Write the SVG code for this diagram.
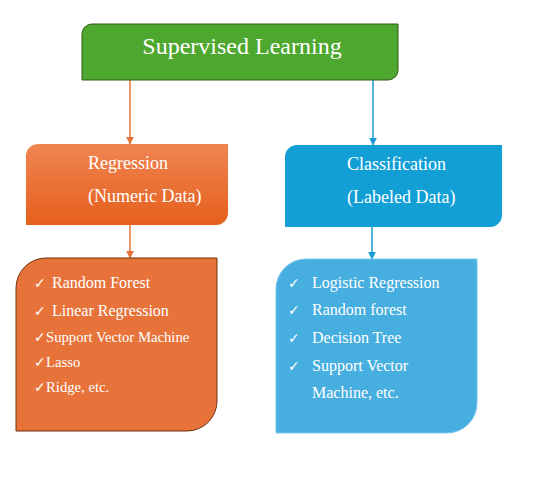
<svg xmlns="http://www.w3.org/2000/svg" width="537" height="483" viewBox="0 0 537 483">
<defs>
<linearGradient id="og" x1="0" y1="0" x2="0" y2="1">
<stop offset="0" stop-color="#f08552"/>
<stop offset="1" stop-color="#e55f1c"/>
</linearGradient>
<marker id="ao" viewBox="0 0 10 10" refX="9" refY="5" markerWidth="8" markerHeight="8" markerUnits="userSpaceOnUse" orient="auto"><path d="M0,0 L10,5 L0,10 Z" fill="#e8733a"/></marker>
<marker id="ab" viewBox="0 0 10 10" refX="9" refY="5" markerWidth="8" markerHeight="8" markerUnits="userSpaceOnUse" orient="auto"><path d="M0,0 L10,5 L0,10 Z" fill="#1a9bd4"/></marker>
<style>
text{font-family:"Liberation Serif","Times New Roman",serif;fill:#ffffff}
.t{font-size:24px}
.h{font-size:18px}
.i{font-size:16px}
.s{font-size:14.7px}
.c{font-family:"DejaVu Sans",sans-serif;font-size:14px}
.lo{stroke:#e8733a;stroke-width:1.5;fill:none}
.lb{stroke:#1a9bd4;stroke-width:1.5;fill:none}
</style>
</defs>
<g id="connectors">
<line class="lo" x1="130" y1="80" x2="130" y2="144" marker-end="url(#ao)"/>
<line class="lb" x1="373" y1="80" x2="373" y2="145" marker-end="url(#ab)"/>
<line class="lo" x1="130" y1="225" x2="130" y2="258" marker-end="url(#ao)"/>
<line class="lb" x1="372" y1="227" x2="372" y2="259" marker-end="url(#ab)"/>
</g>
<g id="supervised">
<path d="M82,34 A10,10 0 0 1 92,24 H398 V70 A10,10 0 0 1 388,80 H82 Z" fill="#4ea72e" stroke="#2b5a17" stroke-width="1"/>
<text class="t" x="242" y="54" text-anchor="middle">Supervised Learning</text>
</g>
<g id="regression">
<path d="M26,156 A12,12 0 0 1 38,144 H228 V213 A12,12 0 0 1 216,225 H26 Z" fill="url(#og)"/>
<text class="h" x="88" y="169">Regression</text>
<text class="h" x="88" y="202">(Numeric Data)</text>
</g>
<g id="classification">
<path d="M285,157 A12,12 0 0 1 297,145 H502 V215 A12,12 0 0 1 490,227 H285 Z" fill="#129fd6"/>
<text class="h" x="347" y="170">Classification</text>
<text class="h" x="347" y="203">(Labeled Data)</text>
</g>
<g id="regression-list">
<path d="M16,288 A30,30 0 0 1 46,258 H217 V401 A30,30 0 0 1 187,431 H16 Z" fill="#e8733a" stroke="#6e3210" stroke-width="1"/>
<text class="c" x="34" y="288">✓</text><text class="i" x="52" y="288">Random Forest</text>
<text class="c" x="34" y="316">✓</text><text class="i" x="52" y="316">Linear Regression</text>
<text class="c" x="34" y="342">✓</text><text class="s" x="46" y="342">Support Vector Machine</text>
<text class="c" x="34" y="367">✓</text><text class="s" x="46" y="367">Lasso</text>
<text class="c" x="34" y="392">✓</text><text class="s" x="46" y="392">Ridge, etc.</text>
</g>
<g id="classification-list">
<path d="M276,289 A30,30 0 0 1 306,259 H477 V403 A30,30 0 0 1 447,433 H276 Z" fill="#47aee0" stroke="#79c6ea" stroke-width="1"/>
<text class="c" x="288" y="288">✓</text><text class="i" x="312" y="288">Logistic Regression</text>
<text class="c" x="288" y="315">✓</text><text class="i" x="312" y="315">Random forest</text>
<text class="c" x="288" y="343">✓</text><text class="i" x="312" y="343">Decision Tree</text>
<text class="c" x="288" y="371">✓</text><text class="i" x="312" y="371">Support Vector</text>
<text class="i" x="312" y="398">Machine, etc.</text>
</g>
</svg>
